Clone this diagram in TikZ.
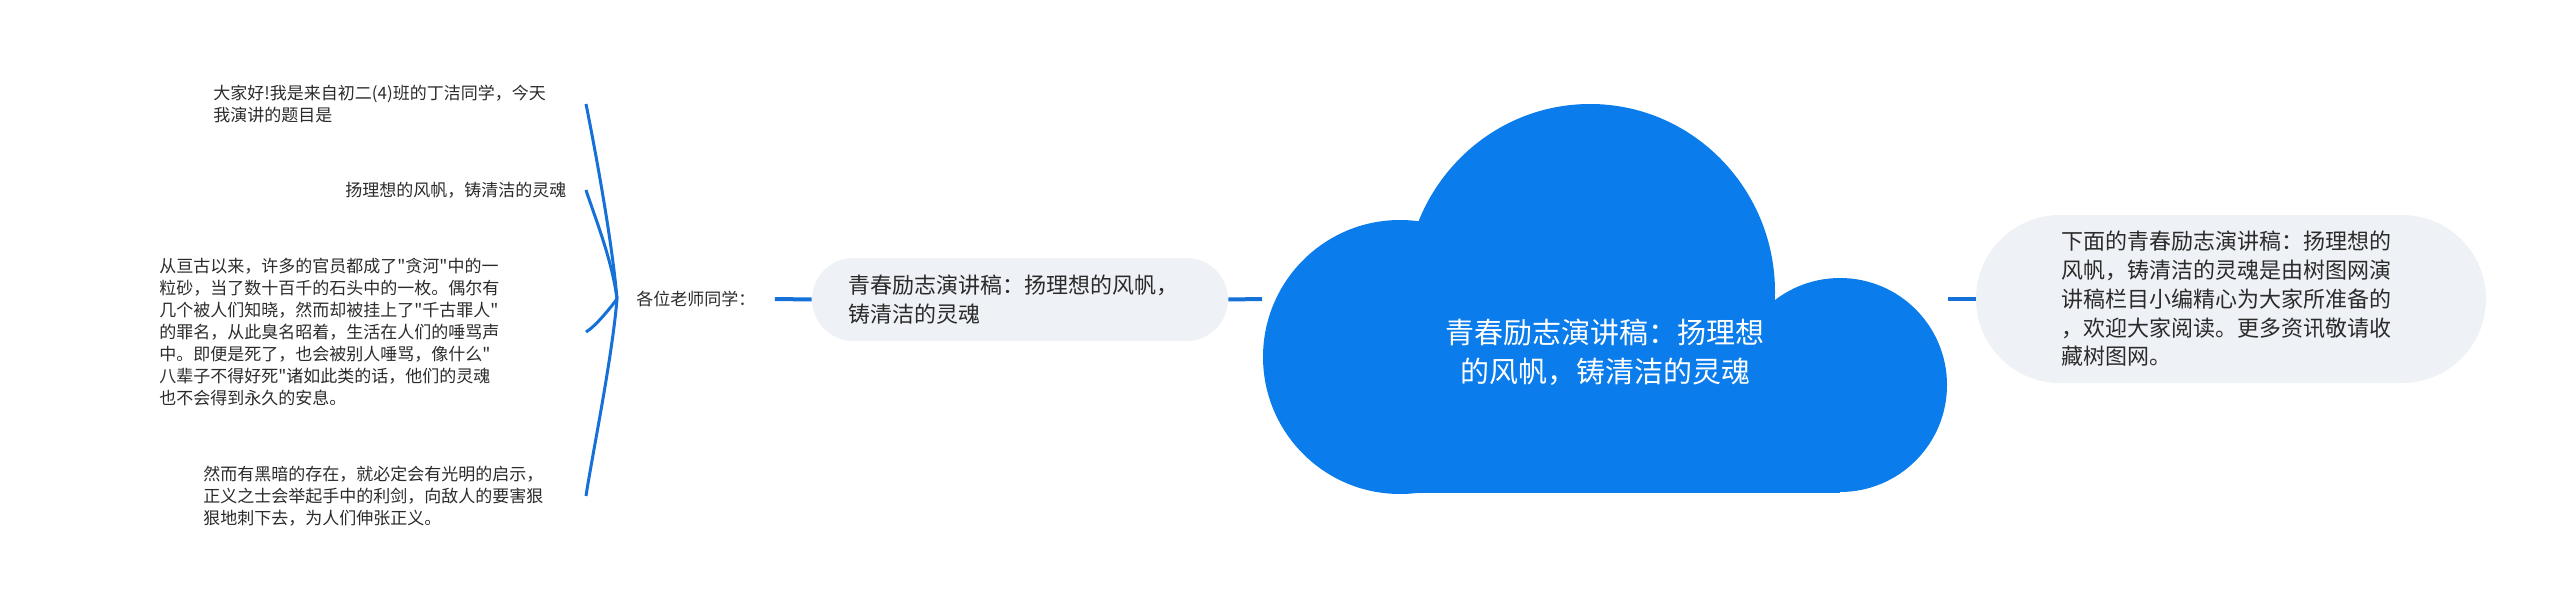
\documentclass[tikz,border=0pt]{standalone}
\usepackage{fontspec}
\newfontfamily\cjkfont{Noto Sans CJK SC}
\usepackage{tikz}

\definecolor{cloudblue}{HTML}{0A7CEB}
\definecolor{lineblue}{HTML}{1570D8}
\definecolor{pillgray}{HTML}{EEF1F5}
\definecolor{textgray}{HTML}{2B2B2B}

\begin{document}
\begin{tikzpicture}[x=0.5pt,y=-0.5pt]
		\tikzstyle{leaf} = [anchor=west,inner sep=0pt,align=left,text=textgray,font=\cjkfont\fontsize{8.5}{11}\selectfont]
		\tikzstyle{pill} = [fill=pillgray,rounded corners=20.75pt,minimum height=41.5pt,inner xsep=18pt,align=left,text=textgray,font=\cjkfont\fontsize{11}{14.4}\selectfont]
		\tikzstyle{link} = [lineblue,line width=2pt]
		\tikzstyle{brace} = [lineblue,line width=1.5pt]
		
		\useasboundingbox (0,0) rectangle (2560,610);
		
		% cloud
		\fill[cloudblue] (1400,357) circle [radius=137];
		\fill[cloudblue] (1590,292) ellipse [x radius=185, y radius=188];
		\fill[cloudblue] (1840,385) circle [radius=107];
		\fill[cloudblue] (1400,300) rectangle (1840,493);
		\node[minimum width=343pt,minimum height=194.5pt,outer sep=0pt] (main) at (1605,299) {};
		\node[text=white,align=center,font=\cjkfont\fontsize{14.5}{19.5}\selectfont] (mainlabel) at (1605,352) {青春励志演讲稿：扬理想\\的风帆，铸清洁的灵魂};
		
		\node[pill,text width=172pt] (topic) at (1020,299.5) {青春励志演讲稿：扬理想的风帆，\\铸清洁的灵魂};
		\node[pill,text width=170pt,inner xsep=42.5pt,rounded corners=42pt,minimum height=84pt] (summary) at (2231,299) {下面的青春励志演讲稿：扬理想的\\风帆，铸清洁的灵魂是由树图网演\\讲稿栏目小编精心为大家所准备的\\，欢迎大家阅读。更多资讯敬请收\\藏树图网。};
		
		\node[anchor=west,inner xsep=9.5pt,inner ysep=0pt,text=textgray,font=\cjkfont\fontsize{8.5}{11}\selectfont] (teachers) at (617,299) {各位老师同学：};
		
		\node[leaf] (hello) at (213,104) {大家好!我是来自初二(4)班的丁洁同学，今天\\我演讲的题目是};
		\node[leaf] (title) at (345,190) {扬理想的风帆，铸清洁的灵魂};
		\node[leaf] (history) at (159,332) {从亘古以来，许多的官员都成了"贪河"中的一\\粒砂，当了数十百千的石头中的一枚。偶尔有\\几个被人们知晓，然而却被挂上了"千古罪人"\\的罪名，从此臭名昭着，生活在人们的唾骂声\\中。即便是死了，也会被别人唾骂，像什么"\\八辈子不得好死"诸如此类的话，他们的灵魂\\也不会得到永久的安息。};
		\node[leaf] (justice) at (203,496) {然而有黑暗的存在，就必定会有光明的启示，\\正义之士会举起手中的利剑，向敌人的要害狠\\狠地刺下去，为人们伸张正义。};
		\coordinate (bx) at (586,299);
		
		\draw[link] (main.east) -- (summary.west);
		\draw[link] (topic.east) -- (main.west);
		\draw[link] (teachers.east) -- (topic.west);
		
		\draw[brace] (teachers.west) .. controls +(-5,-60) and +(8,40) .. (bx |- hello);
		\draw[brace] (teachers.west) .. controls +(-5,-40) and +(8,25) .. (bx |- title);
		\draw[brace] (teachers.west) .. controls +(-6,8) and +(10,-6) .. (bx |- history);
		\draw[brace] (teachers.west) .. controls +(-5,60) and +(6,-40) .. (bx |- justice);
	\end{tikzpicture}
\end{document}
